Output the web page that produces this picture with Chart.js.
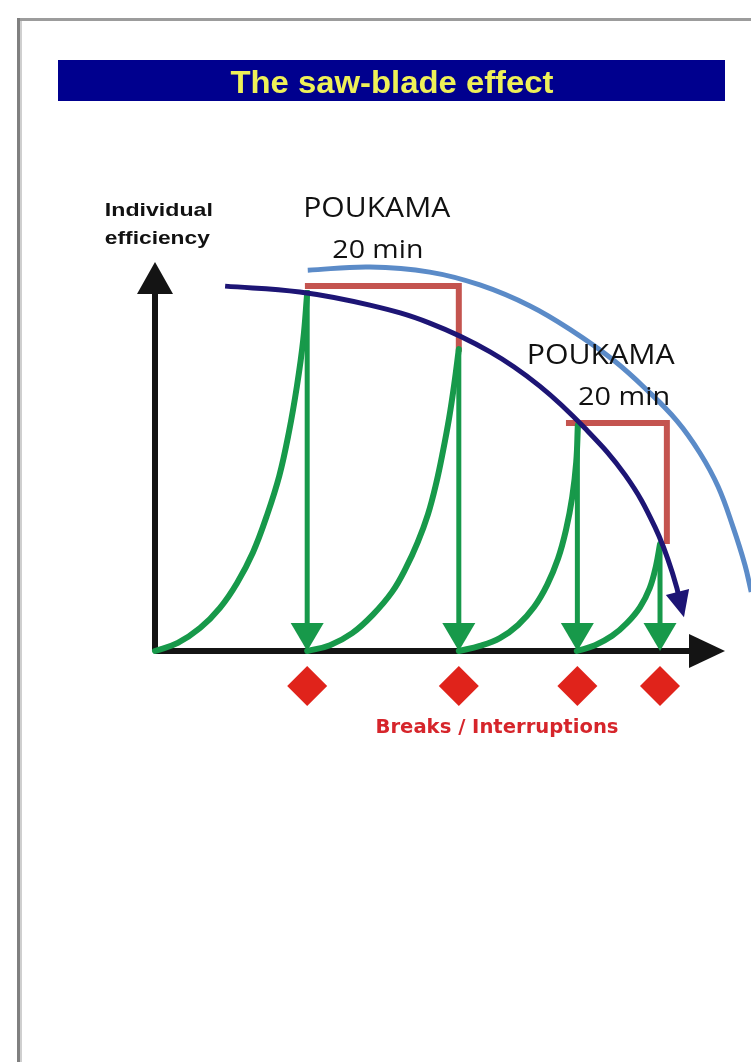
<!DOCTYPE html>
<html>
<head>
<meta charset="utf-8">
<script src="https://cdn.jsdelivr.net/npm/chart.js@4.4.0/dist/chart.umd.min.js"></script>
<style>
  html, body { margin: 0; padding: 0; background: #ffffff; }
  #wrap { width: 751px; height: 1062px; }
  canvas { display: block; }
</style>
</head>
<body>
<div id="wrap"><canvas id="c" width="751" height="1062"></canvas></div>
<script>
// ---------- DATA (time on x, individual efficiency on y: 0..100) ----------
const sawCurve1 = [[0,0],[4,2.1],[7.9,5.9],[11.4,11.1],[14.4,17.5],[17.2,25.4],[19.6,34.7],[21.8,45],[23.5,56.3],[24.9,68.1],[26,79.9],[26.7,92]];
const sawCurve2 = [[26.7,0],[30.7,1.5],[34.6,4.6],[38.2,9.3],[41.6,15.2],[44,21.3],[46.1,28],[47.9,35.2],[49.3,42.9],[50.5,51.2],[51.6,59.9],[52.5,68.6],[53.3,77.6]];
const sawCurve3 = [[53.3,0],[57,1.3],[60.5,3.3],[63.7,6.7],[66.5,11.3],[68.8,17],[70.7,23.7],[72.1,31.1],[73.2,39.6],[73.9,48.6],[74.2,58.1]];
const sawCurve4 = [[74,0],[77.2,1.5],[80.2,3.9],[82.8,7.2],[85.1,11.3],[86.8,16.2],[87.9,21.9],[88.6,27.5]];
const breakTimes = [26.7, 53.3, 74.1, 88.6];
const dropFrom   = [92.8, 77.4, 58.1, 27.2];
const breakLevel = -9;
const pause1 = [[26.3,93.8],[53.3,93.8],[53.3,76.9]];
const pause2 = [[72.1,58.6],[89.8,58.6],[89.8,27.5]];
const trend = [[12.3,93.8],[25.4,92.3],[37.7,88.9],[48.2,84.3],[58.8,76.9],[67.5,68.1],[75.4,57.3],[82.5,45.2],[87.7,31.9],[90.9,19.5],[92.8,8.7]];
const potential = [[26.8,97.9],[37.7,98.7],[48.2,97.4],[57,94.1],[65.8,88.7],[73.2,82.3],[80.4,74.8],[86.3,67.1],[91.6,59.1],[95.6,50.9],[98.8,42.2],[101.4,31.9],[103.5,22.1],[104.6,15.2]];
const yAxisLine = [[0,0],[0,100]];
const xAxisLine = [[0,0],[100,0]];

// ---------- helpers ----------
const pts = arr => arr.map(([x, y]) => ({ x, y }));
const GREEN = '#17994a', RED = '#c4544f', NAVY = '#1d1575', BLUE = '#5b8bc8', BLACK = '#141414';

const datasets = [];
// navy trend (top)
datasets.push({ data: pts(trend), borderColor: NAVY, borderWidth: 5, tension: 0.4, arrow: { len: 26, width: 24, color: NAVY } });
// green drop arrows
breakTimes.forEach((t, i) => {
  datasets.push({ data: pts([[t, dropFrom[i]], [t, 0]]), borderColor: GREEN, borderWidth: 5, arrow: { len: 28, width: 33, color: GREEN } });
});
// green saw curves
[sawCurve1, sawCurve2, sawCurve3, sawCurve4].forEach(c => {
  datasets.push({ data: pts(c), borderColor: GREEN, borderWidth: 6, tension: 0.4, borderCapStyle: 'round' });
});
// red pause brackets
[pause1, pause2].forEach(p => {
  datasets.push({ data: pts(p), borderColor: RED, borderWidth: 6, borderJoinStyle: 'miter' });
});
// blue potential arc
datasets.push({ data: pts(potential), borderColor: BLUE, borderWidth: 5, tension: 0.4 });
// axes
datasets.push({ data: pts(yAxisLine), borderColor: BLACK, borderWidth: 6, arrow: { len: 32, width: 36, color: BLACK } });
datasets.push({ data: pts(xAxisLine), borderColor: BLACK, borderWidth: 6, arrow: { len: 36, width: 34, color: BLACK } });
// break diamonds
datasets.push({ data: breakTimes.map(t => ({ x: t, y: breakLevel })), showLine: false, pointStyle: 'rectRot', pointRadius: 20, pointBackgroundColor: '#e0231b', pointBorderColor: '#e0231b', pointBorderWidth: 0, borderWidth: 0 });

datasets.forEach(d => {
  d.clip = false;
  d.fill = false;
  if (d.pointRadius === undefined) d.pointRadius = 0;
  d.pointHoverRadius = d.pointRadius;
});

function fitText(ctx, str, x, baseline, font, color, width, align) {
  ctx.save();
  ctx.font = font;
  ctx.fillStyle = color;
  ctx.textBaseline = 'alphabetic';
  ctx.textAlign = 'left';
  const m = ctx.measureText(str).width;
  const s = width ? width / m : 1;
  const left = align === 'left' ? x : x - (m * s) / 2;
  ctx.translate(left, baseline);
  ctx.scale(s, 1);
  ctx.fillText(str, 0, 0);
  ctx.restore();
}

const arrowPlugin = {
  id: 'arrowHeads',
  beforeDatasetDraw(chart, args) {
    const ds = chart.data.datasets[args.index];
    if (!ds.arrow) return;
    const p = args.meta.data;
    const a = p[p.length - 1], b = p[p.length - 2];
    const ang = Math.atan2(a.y - b.y, a.x - b.x);
    ds._tip = { x: a.x, y: a.y, ang };
    const back = ds.arrow.len * 0.6;
    a.x = ds._tip.x - Math.cos(ang) * back;
    a.y = ds._tip.y - Math.sin(ang) * back;
    args.meta.dataset._path = undefined;
  },
  afterDatasetDraw(chart, args) {
    const ds = chart.data.datasets[args.index];
    if (!ds.arrow || !ds._tip) return;
    const p = args.meta.data;
    const a = p[p.length - 1];
    a.x = ds._tip.x; a.y = ds._tip.y;
    args.meta.dataset._path = undefined;
    const { x, y, ang } = ds._tip;
    const L = ds.arrow.len, W = ds.arrow.width / 2;
    const bx = x - Math.cos(ang) * L, by = y - Math.sin(ang) * L;
    const nx = -Math.sin(ang), ny = Math.cos(ang);
    const ctx = chart.ctx;
    ctx.save();
    ctx.fillStyle = ds.arrow.color;
    ctx.beginPath();
    ctx.moveTo(x, y);
    ctx.lineTo(bx + nx * W, by + ny * W);
    ctx.lineTo(bx - nx * W, by - ny * W);
    ctx.closePath();
    ctx.fill();
    ctx.restore();
  }
};

const pagePlugin = {
  id: 'page',
  beforeDraw(chart) {
    const ctx = chart.ctx;
    ctx.save();
    ctx.fillStyle = '#ffffff';
    ctx.fillRect(0, 0, chart.width, chart.height);
    // page frame
    ctx.fillStyle = '#9c9c9c';
    ctx.fillRect(18, 18, chart.width - 18, 3);
    ctx.fillStyle = '#808080';
    ctx.fillRect(17, 18, 3, chart.height - 18);
    ctx.fillStyle = '#cfcfcf';
    ctx.fillRect(20, 21, 2, chart.height - 21);
    // title bar
    ctx.fillStyle = '#00008e';
    ctx.fillRect(58, 60, 667, 41);
    ctx.restore();
    fitText(ctx, 'The saw-blade effect', 392, 93, 'bold 31px "Liberation Sans", Arial, sans-serif', '#eef058', 323);
  },
  afterDraw(chart) {
    const ctx = chart.ctx;
    const X = v => chart.scales.x.getPixelForValue(v);
    const Y = v => chart.scales.y.getPixelForValue(v);
    const lab = '"Open Sans", "Noto Sans", sans-serif';
    fitText(ctx, 'Individual', X(-8.8), Y(111.8), 'bold 19px "Liberation Sans", Arial, sans-serif', '#111111', 108, 'left');
    fitText(ctx, 'efficiency', X(-8.8), Y(104.6), 'bold 19px "Liberation Sans", Arial, sans-serif', '#111111', 105, 'left');
    fitText(ctx, 'POUKAMA', X(38.9), Y(111.6), '500 27px ' + lab, '#111111', 147);
    fitText(ctx, '20 min', X(39.1), Y(101.0), '500 26px ' + lab, '#111111', 91);
    fitText(ctx, 'POUKAMA', X(78.2), Y(73.8), '500 27px ' + lab, '#111111', 148);
    fitText(ctx, '20 min', X(82.3), Y(63.2), '500 26px ' + lab, '#111111', 92);
    fitText(ctx, 'Breaks / Interruptions', X(60.0), Y(-21.1), 'bold 20px "DejaVu Sans", sans-serif', '#d6252b', 243);
  }
};

new Chart(document.getElementById('c'), {
  type: 'line',
  data: { datasets },
  options: {
    responsive: false,
    animation: false,
    events: [],
    layout: { autoPadding: false, padding: { left: 155, right: 0.35, top: 262, bottom: 364.32 } },
    plugins: { legend: { display: false }, tooltip: { enabled: false }, title: { display: false } },
    scales: {
      x: { type: 'linear', min: 0, max: 104.5, display: false },
      y: { type: 'linear', min: -12, max: 100, display: false }
    }
  },
  plugins: [pagePlugin, arrowPlugin]
});
</script>
</body>
</html>
